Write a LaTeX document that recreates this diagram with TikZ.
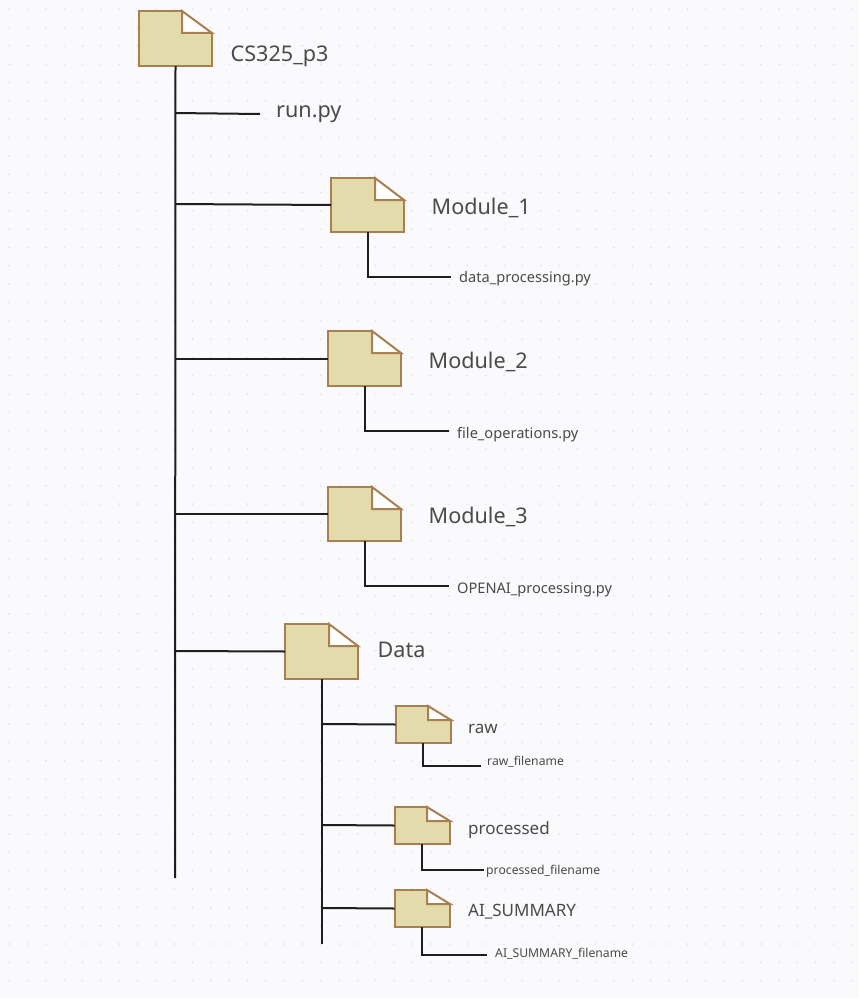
\documentclass[tikz,border=0pt]{standalone}
\usepackage{fontspec}
\setmainfont{Noto Sans}
\usetikzlibrary{calc}
\definecolor{bgc}{HTML}{FAFAFC}
\definecolor{dotc}{HTML}{DEDEE6}
\definecolor{fillc}{HTML}{E3DBAC}
\definecolor{edgec}{HTML}{A87F50}
\definecolor{linec}{HTML}{1E1E1E}
\definecolor{textc}{HTML}{4A4A4A}
\tikzset{
  folderbox/.style={anchor=north west,inner sep=0pt,outer sep=0pt,minimum width=#1},
  wire/.style={draw=linec,line width=2pt},
  lab/.style={anchor=base west,inner sep=0pt,text=textc},
  big/.style={lab,font=\fontsize{21.6}{25}\selectfont},
  sub/.style={lab,font=\fontsize{17}{20}\selectfont},
  mid/.style={lab,font=\fontsize{14.6}{17}\selectfont},
  small/.style={lab,font=\fontsize{12.2}{15}\selectfont}
}
% name, x, y, w, h, ear w, ear h
\newcommand{\folder}[7]{%
  \node[folderbox=#4pt,minimum height=#5pt] (#1) at (#2,#3) {};
  \draw[draw=edgec,fill=fillc,line width=2pt,line join=miter]
    (#1.north west) -- ++(#4-#6,0) -- ++(0,#7) -- ++(#6,0) -- (#1.south east) -- (#1.south west) -- cycle;
  \draw[draw=edgec,fill=white,line width=2pt,line join=miter]
    ($(#1.north east)+(-#6,0)$) -- ($(#1.north east)+(0,#7)$) -- ($(#1.north east)+(-#6,#7)$) -- cycle;
}
\begin{document}
\begin{tikzpicture}[x=1pt,y=-1pt]
\useasboundingbox (0,0) rectangle (859,998);
\fill[bgc] (0,0) rectangle (859,998);
\foreach \i in {0,...,46}{\foreach \j in {0,...,54}{
  \fill[dotc] ({9.2+18.33*\i},{9.2+18.33*\j}) circle (0.9pt);}}
\folder{root}{139}{11}{73}{55}{30}{22}
\folder{mone}{331}{178}{73}{54}{29}{22}
\folder{mtwo}{328}{331}{73}{55}{29}{22}
\folder{mthree}{328}{487}{73}{54}{29}{22}
\folder{data}{285}{624}{73}{55}{29}{22}
\folder{raw}{395.5}{706}{55.5}{37}{23}{14}
\folder{proc}{394.5}{807}{55.5}{37}{23}{14}
\folder{ai}{394.5}{890}{55.5}{37}{23}{14}

\node[big] (troot) at (230.5,62) {CS325\_p3};
\node[big] (trun) at (276,117) {run.py};
\node[big] (tmone) at (431.5,214) {Module\_1};
\node[big] (tmtwo) at (428.5,368) {Module\_2};
\node[big] (tmthree) at (428.5,523) {Module\_3};
\node[big] (tdata) at (377.5,657) {Data};
\node[mid] (fmone) at (459,282) {data\_processing.py};
\node[mid] (fmtwo) at (457,438) {file\_operations.py};
\node[mid] (fmthree) at (457,593) {OPENAI\_processing.py};
\node[sub] (traw) at (468,733) {raw};
\node[sub] (tproc) at (468,834) {processed};
\node[sub] (tai) at (468,916) {AI\_SUMMARY};
\node[small] (fraw) at (487,765) {raw\_filename};
\node[small] (fproc) at (486,874) {processed\_filename};
\node[small] (fai) at (495,957) {AI\_SUMMARY\_filename};

\coordinate (trunkend) at (175,878);
\coordinate (datatrunkend) at (321.5,944);
\coordinate (runend) at (260,114);
\coordinate (monend) at (451,277);
\coordinate (mtwend) at (449,431);
\coordinate (mthend) at (449,586);
\coordinate (rawend) at (481,766);
\coordinate (procend) at (484,870);
\coordinate (aiend) at (487,955);

\draw[wire] (root.south) -- (trunkend);
\draw[wire] (175,113) -- (runend);
\draw[wire] (175,204) -- (mone.west);
\draw[wire] (175,358.5) -- (mtwo.west);
\draw[wire] (175,514) -- (mthree.west);
\draw[wire] (175,651) -- (data.west);
\draw[wire] (mone.south) |- (monend);
\draw[wire] (mtwo.south) |- (mtwend);
\draw[wire] (mthree.south) |- (mthend);
\draw[wire] (data.south) -- (datatrunkend);
\draw[wire] (321.5,724) -- (raw.west);
\draw[wire] (321.5,825) -- (proc.west);
\draw[wire] (321.5,908) -- (ai.west);
\draw[wire] (raw.south) |- (rawend);
\draw[wire] (proc.south) |- (procend);
\draw[wire] (ai.south) |- (aiend);
\end{tikzpicture}
\end{document}
